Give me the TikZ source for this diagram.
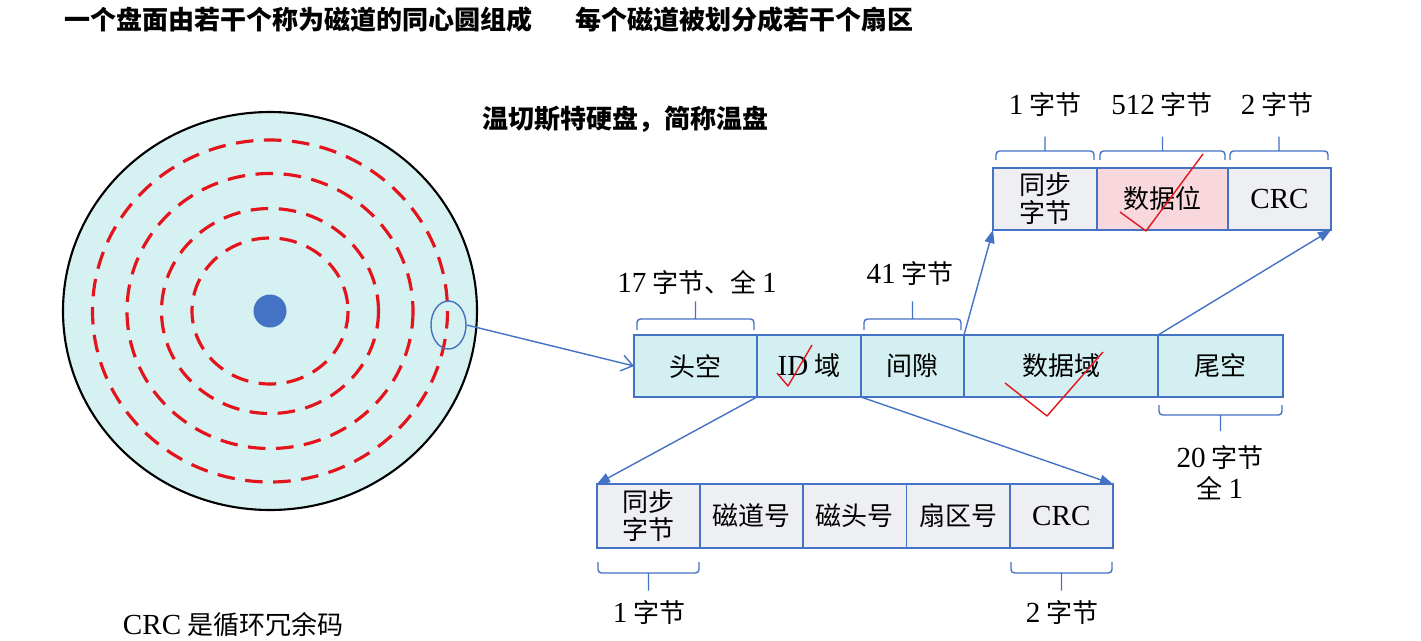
\documentclass[tikz,border=0pt]{standalone}
\usepackage{fontspec}
\setmainfont[Scale=1.12]{Liberation Serif}
\newfontfamily\cjk{Noto Sans CJK SC}
\usetikzlibrary{shapes.geometric}
\usetikzlibrary{arrows.meta}
\usepackage{xcolor}
\definecolor{lineblue}{HTML}{4472C4}
\definecolor{diskcyan}{HTML}{D5F1F1}
\definecolor{fieldcyan}{HTML}{D3EFF1}
\definecolor{cellgray}{HTML}{EEEFF2}
\definecolor{cellpink}{HTML}{F8D8DD}
\definecolor{trackred}{HTML}{E3141C}

\begin{document}
\begin{tikzpicture}[x=0.02cm, y=-0.02cm,
    font=\cjk\fontsize{14.8}{16}\selectfont,
    field/.style={draw=lineblue, line width=1.1pt, minimum height=1.24cm, inner sep=1pt, outer sep=0pt, align=center},
    bracket/.style={draw=lineblue, line width=0.8pt, rounded corners=2pt},
    link/.style={draw=lineblue, line width=0.8pt},
    trackdash/.style={draw=trackred, line width=1.8pt, dash pattern=on 10pt off 6pt},
    tick/.style={draw=trackred, line width=0.8pt, line join=round}]
    \useasboundingbox (0,0) rectangle (1421,640);

    % captions
    \node[anchor=west, font=\cjk\bfseries\fontsize{14.8}{16}\selectfont] (title1) at (58,20) {一个盘面由若干个称为磁道的同心圆组成};
    \node[anchor=west, font=\cjk\bfseries\fontsize{14.8}{16}\selectfont] (title2) at (569,20) {每个磁道被划分成若干个扇区};
    \node[anchor=west, font=\cjk\bfseries\fontsize{14.8}{16}\selectfont] (winch) at (476,119) {温切斯特硬盘，简称温盘};
    \node[anchor=west] (crcnote) at (116,625) {{\rmfamily CRC} 是循环冗余码};

    % the platter and its tracks
    \draw[fill=diskcyan, line width=1.2pt] (270,311) ellipse [x radius=207, y radius=199];
    \foreach \rx/\ry in {177.5/171, 143/137.5, 108.5/102.5, 78/73}
        \draw[trackdash] (270,311) ellipse [x radius=\rx, y radius=\ry];
    \fill[lineblue] (270,311) circle [radius=16.5];
    \node[draw=lineblue, ellipse, line width=0.8pt, minimum width=0.7cm, minimum height=0.96cm, inner sep=0pt] (track) at (448.5,325) {};

    % one sector
    \node[field, fill=fieldcyan, minimum width=2.46cm] (toukong) at (695.5,366) {头空};
    \node[field, fill=fieldcyan, minimum width=2.08cm] (idyu) at (809,366) {{\rmfamily ID} 域};
    \node[field, fill=fieldcyan, minimum width=2.06cm] (jianxi) at (912.5,366) {间隙};
    \node[field, fill=fieldcyan, minimum width=3.88cm] (shujuyu) at (1061,366) {数据域};
    \node[field, fill=fieldcyan, minimum width=2.50cm] (weikong) at (1220.5,366) {尾空};

    % data field
    \node[field, fill=cellgray, minimum width=2.08cm] (tongbuA) at (1045,199) {同步\\字节};
    \node[field, fill=cellpink, minimum width=2.62cm] (shujuwei) at (1162.5,199) {数据位};
    \node[field, fill=cellgray, minimum width=2.06cm] (crcA) at (1279.5,199) {\rmfamily CRC};

    % ID field
    \node[field, fill=cellgray, minimum width=2.064cm, minimum height=1.28cm] (tongbuB) at (648.5,516) {同步\\字节};
    \node[field, fill=cellgray, minimum width=2.064cm, minimum height=1.28cm] (cidao) at (751.7,516) {磁道号};
    \node[field, fill=cellgray, minimum width=2.064cm, minimum height=1.28cm] (citou) at (854.9,516) {磁头号};
    \node[field, fill=cellgray, minimum width=2.064cm, minimum height=1.28cm] (shanqu) at (958.1,516) {扇区号};
    \node[field, fill=cellgray, minimum width=2.064cm, minimum height=1.28cm] (crcB) at (1061.3,516) {\rmfamily CRC};

    % connectors
    \draw[link, -{Straight Barb[length=2.2mm, width=3.2mm]}] (track.east) -- (toukong.west);
    \draw[link, -{Triangle[length=2.6mm, width=2mm]}] (shujuyu.north west) -- (tongbuA.south west);
    \draw[link, -{Triangle[length=2.6mm, width=2mm]}] (weikong.north west) -- (crcA.south east);
    \draw[link, -{Triangle[length=2.6mm, width=2mm]}] (idyu.south west) -- (tongbuB.north west);
    \draw[link, -{Triangle[length=2.6mm, width=2mm]}] (idyu.south east) -- (crcB.north east);

    % brackets: left, right, line y, end length
    \foreach \a/\b/\y/\d in {996/1094/151/9, 1100/1225/151/9, 1230/1328/151/9,
                             637/754/319/11, 864/961/319/11, 1159/1282/415/-10,
                             598/699/573/-11, 1011/1112/573/-11}
        \draw[bracket] (\a,\y+\d) -- (\a,\y) -- (\b,\y) -- (\b,\y+\d)
                       ({(\a+\b)/2},\y) -- ++(0,-1.6*\d);

    % sizes
    \node (lenSyncA) at (1045,105) {{\rmfamily 1} 字节};
    \node (lenData) at (1162,105) {{\rmfamily 512} 字节};
    \node (lenCrcA) at (1277,105) {{\rmfamily 2} 字节};
    \node (lenHead) at (697,282) {{\rmfamily 17} 字节、全 {\rmfamily 1}};
    \node (lenGap) at (910,274) {{\rmfamily 41} 字节};
    \node[align=center, font=\cjk\fontsize{14.8}{17.5}\selectfont] (lenTail) at (1220,473) {{\rmfamily 20} 字节\\全 {\rmfamily 1}};
    \node (lenSyncB) at (649,613) {{\rmfamily 1} 字节};
    \node (lenCrcB) at (1062,613) {{\rmfamily 2} 字节};

    % hand ticks
    \draw[tick] (777,373) -- (788,386) -- (812,345);
    \draw[tick] (1005,383) -- (1047,416) -- (1103,352);
    \draw[tick] (1120,212) -- (1146,231) -- (1203,154);
\end{tikzpicture}
\end{document}
